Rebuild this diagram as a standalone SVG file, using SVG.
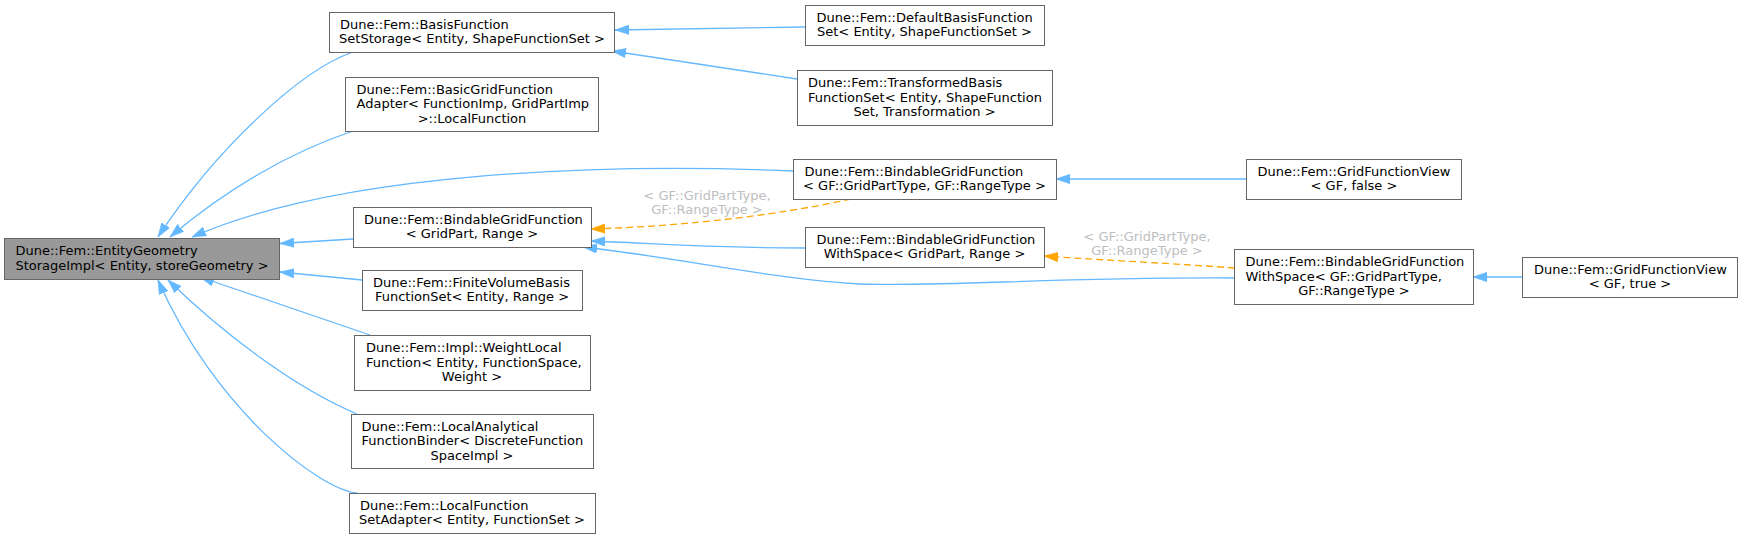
<svg xmlns="http://www.w3.org/2000/svg" width="1743" height="539" viewBox="0 0 1743 539">
<style>
.node rect{fill:#ffffff;stroke:#666666;stroke-width:1}
.root rect{fill:#999999}
text{font-family:"DejaVu Sans",sans-serif;font-size:13px;fill:#000000}
.c{text-anchor:middle}
.e{fill:none;stroke:#63b8ff;stroke-width:1.3}
.d{fill:none;stroke:#ffa500;stroke-width:1.3;stroke-dasharray:7,4}
.lbl{fill:#bebebe;text-anchor:middle}
</style>
<defs>
<marker id="ab" markerUnits="userSpaceOnUse" markerWidth="14" markerHeight="10" viewBox="0 0 14 10" refX="14" refY="5" orient="auto"><path d="M0,0.3 L14,5 L0,9.7 z" fill="#63b8ff" stroke="#63b8ff" stroke-width="0.6"/></marker>
<marker id="ao" markerUnits="userSpaceOnUse" markerWidth="14" markerHeight="10" viewBox="0 0 14 10" refX="14" refY="5" orient="auto"><path d="M0,0.3 L14,5 L0,9.7 z" fill="#ffa500" stroke="#ffa500" stroke-width="0.6"/></marker>
</defs>
<rect width="1743" height="539" fill="#ffffff"/>
<g id="connectors">
<path class="e" marker-end="url(#ab)" d="M353,52 C300,70 215,150 158,237"/>
<path class="e" marker-end="url(#ab)" d="M353,131 C290,152 225,190 170,237"/>
<path class="e" marker-end="url(#ab)" d="M793,171 C600,163 340,172 192,237"/>
<path class="e" marker-end="url(#ab)" d="M353,239 L280,243.5"/>
<path class="e" marker-end="url(#ab)" d="M362,280 L280,272"/>
<path class="e" marker-end="url(#ab)" d="M370,335 L200,277"/>
<path class="e" marker-end="url(#ab)" d="M357,414 C300,390 230,340 168,280"/>
<path class="e" marker-end="url(#ab)" d="M357,493 C320,490 215,410 158,280"/>
<path class="e" marker-end="url(#ab)" d="M805,27 L615,30"/>
<path class="e" marker-end="url(#ab)" d="M797,79 L612,51"/>
<path class="e" marker-end="url(#ab)" d="M1246,179 L1056,179"/>
<path class="d" marker-end="url(#ao)" d="M851,199 C810,208 720,225 591,229"/>
<text class="lbl" x="707" y="199.5">&lt; GF::GridPartType,</text>
<text class="lbl" x="707" y="214">GF::RangeType &gt;</text>
<path class="e" marker-end="url(#ab)" d="M805,248 C700,248 650,243 591,241"/>
<path class="e" marker-end="url(#ab)" d="M1234,278 C1050,277 950,287 860,284 C780,280 680,258 583,247"/>
<path class="d" marker-end="url(#ao)" d="M1235,268 C1150,262 1100,260 1044,256"/>
<text class="lbl" x="1147" y="240.5">&lt; GF::GridPartType,</text>
<text class="lbl" x="1147" y="255">GF::RangeType &gt;</text>
<path class="e" marker-end="url(#ab)" d="M1522,277 L1473,277"/>
</g>
<g id="n_entitygeometry" class="node root">
<rect x="4.5" y="238.5" width="275" height="41"/>
<text x="15.5" y="255">Dune::Fem::EntityGeometry</text>
<text x="142" y="269.5" class="c">StorageImpl&lt; Entity, storeGeometry &gt;</text>
</g>
<g id="n_basisfunctionsetstorage" class="node">
<rect x="329.5" y="12.5" width="285" height="40"/>
<text x="340" y="28.5">Dune::Fem::BasisFunction</text>
<text x="472" y="43" class="c">SetStorage&lt; Entity, ShapeFunctionSet &gt;</text>
</g>
<g id="n_basicgridfunctionadapter" class="node">
<rect x="345.5" y="77.5" width="253" height="54"/>
<text x="356.5" y="93.5">Dune::Fem::BasicGridFunction</text>
<text x="356.5" y="108">Adapter&lt; FunctionImp, GridPartImp</text>
<text x="472" y="122.5" class="c">&gt;::LocalFunction</text>
</g>
<g id="n_bindablegridfunction_gp" class="node">
<rect x="353.5" y="207.5" width="238" height="40"/>
<text x="364" y="223.5">Dune::Fem::BindableGridFunction</text>
<text x="472" y="238" class="c">&lt; GridPart, Range &gt;</text>
</g>
<g id="n_finitevolumebasis" class="node">
<rect x="362.5" y="270.5" width="220" height="40"/>
<text x="373" y="286.5">Dune::Fem::FiniteVolumeBasis</text>
<text x="472" y="301" class="c">FunctionSet&lt; Entity, Range &gt;</text>
</g>
<g id="n_weightlocalfunction" class="node">
<rect x="354.5" y="335.5" width="236" height="55"/>
<text x="366" y="352">Dune::Fem::Impl::WeightLocal</text>
<text x="366" y="366.5">Function&lt; Entity, FunctionSpace,</text>
<text x="472" y="381" class="c">Weight &gt;</text>
</g>
<g id="n_localanalytical" class="node">
<rect x="351.5" y="414.5" width="242" height="54"/>
<text x="361.5" y="430.5">Dune::Fem::LocalAnalytical</text>
<text x="361.5" y="445">FunctionBinder&lt; DiscreteFunction</text>
<text x="472" y="459.5" class="c">SpaceImpl &gt;</text>
</g>
<g id="n_localfunctionsetadapter" class="node">
<rect x="349.5" y="493.5" width="246" height="40"/>
<text x="360" y="509.5">Dune::Fem::LocalFunction</text>
<text x="472" y="524" class="c">SetAdapter&lt; Entity, FunctionSet &gt;</text>
</g>
<g id="n_defaultbasisfunctionset" class="node">
<rect x="805.5" y="5.5" width="239" height="40"/>
<text x="816.5" y="21.5">Dune::Fem::DefaultBasisFunction</text>
<text x="924.5" y="36" class="c">Set&lt; Entity, ShapeFunctionSet &gt;</text>
</g>
<g id="n_transformedbasis" class="node">
<rect x="797.5" y="70.5" width="255" height="55"/>
<text x="808" y="87">Dune::Fem::TransformedBasis</text>
<text x="808" y="101.5">FunctionSet&lt; Entity, ShapeFunction</text>
<text x="924.5" y="116" class="c">Set, Transformation &gt;</text>
</g>
<g id="n_bindablegridfunction_gf" class="node">
<rect x="793.5" y="159.5" width="263" height="40"/>
<text x="804.5" y="175.5">Dune::Fem::BindableGridFunction</text>
<text x="924.5" y="190" class="c">&lt; GF::GridPartType, GF::RangeType &gt;</text>
</g>
<g id="n_withspace_gp" class="node">
<rect x="805.5" y="227.5" width="239" height="40"/>
<text x="816.5" y="243.5">Dune::Fem::BindableGridFunction</text>
<text x="924.5" y="258" class="c">WithSpace&lt; GridPart, Range &gt;</text>
</g>
<g id="n_gridfunctionview_false" class="node">
<rect x="1246.5" y="159.5" width="215" height="40"/>
<text x="1257.5" y="175.5">Dune::Fem::GridFunctionView</text>
<text x="1354" y="190" class="c">&lt; GF, false &gt;</text>
</g>
<g id="n_withspace_gf" class="node">
<rect x="1234.5" y="249.5" width="239" height="55"/>
<text x="1245.5" y="266">Dune::Fem::BindableGridFunction</text>
<text x="1245.5" y="280.5">WithSpace&lt; GF::GridPartType,</text>
<text x="1354" y="295" class="c">GF::RangeType &gt;</text>
</g>
<g id="n_gridfunctionview_true" class="node">
<rect x="1522.5" y="257.5" width="215" height="40"/>
<text x="1534" y="273.5">Dune::Fem::GridFunctionView</text>
<text x="1630" y="288" class="c">&lt; GF, true &gt;</text>
</g>
</svg>
